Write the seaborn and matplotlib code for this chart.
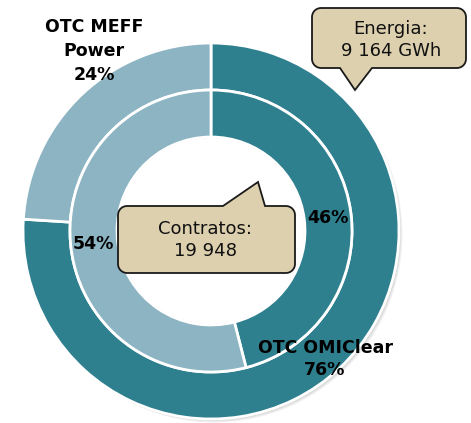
import numpy as np
import matplotlib
matplotlib.use("Agg")
import matplotlib.pyplot as plt
import seaborn as sns
from matplotlib.path import Path
from matplotlib.patches import PathPatch, Circle

sns.set_theme(style="white")
plt.rcParams['font.family'] = ['DejaVu Sans']

# ---- data ----
categories = ["OTC OMIClear", "OTC MEFF Power"]
outer_values = [76, 24]   # Energia (GWh share)
inner_values = [46, 54]   # Contratos share
colors = ["#2F808F", "#8CB4C2"]
energia_label = "Energia:\n9 164 GWh"
contratos_label = "Contratos:\n19 948"

W, H = 471, 423
fig = plt.figure(figsize=(W / 100, H / 100), dpi=100)
ax = fig.add_axes([0, 0, 1, 1])


def Y(y):
    return H - y


cx, cy = 211, Y(231)
R_out, R_mid, R_in = 188, 141, 94

# soft shadow
for i, a in enumerate([0.07, 0.06, 0.05]):
    ax.add_patch(Circle((cx + 1.5 + i, cy - 1.5 - i), R_out, color="black", alpha=a, lw=0, zorder=0))

ax.pie(outer_values, radius=R_out, center=(cx, cy), startangle=90, counterclock=False,
       colors=colors, wedgeprops=dict(width=R_out - R_mid, edgecolor="white", linewidth=2),
       frame=True)
ax.pie(inner_values, radius=R_mid, center=(cx, cy), startangle=90, counterclock=False,
       colors=colors, wedgeprops=dict(width=R_mid - R_in, edgecolor="white", linewidth=2),
       frame=True)
ax.add_patch(Circle((cx, cy), R_in - 1, color="white", lw=0, zorder=2))

ax.set_xlim(0, W)
ax.set_ylim(0, H)
ax.set_aspect("equal")
ax.axis("off")

fs = 12.5
ax.text(94, Y(51), "OTC MEFF\nPower\n%d%%" % outer_values[1], ha="center", va="center",
        fontsize=fs, fontweight="bold", linespacing=1.45, color="black", zorder=6)
ax.text(325, Y(359), "%s\n%d%%" % (categories[0], outer_values[0]), ha="center", va="center",
        fontsize=fs, fontweight="bold", linespacing=1.3, color="black", zorder=6)
ax.text(328, Y(218), "%d%%" % inner_values[0], ha="center", va="center",
        fontsize=fs, fontweight="bold", color="black", zorder=6)
ax.text(93, Y(244), "%d%%" % inner_values[1], ha="center", va="center",
        fontsize=fs, fontweight="bold", color="black", zorder=6)


def callout(x0, y0, x1, y1, r, base_a, base_b, tip, side):
    """Rounded rect (pixel coords, y down) with pointer on 'top' or 'bottom'."""
    pts = []

    def arc(cxr, cyr, a0, a1):
        for t in np.linspace(a0, a1, 8):
            pts.append((cxr + r * np.cos(t), cyr + r * np.sin(t)))

    arc(x0 + r, y0 + r, np.pi, 1.5 * np.pi)
    if side == "top":
        pts += [(base_a, y0), tip, (base_b, y0)]
    arc(x1 - r, y0 + r, 1.5 * np.pi, 2 * np.pi)
    arc(x1 - r, y1 - r, 0, 0.5 * np.pi)
    if side == "bottom":
        pts += [(base_b, y1), tip, (base_a, y1)]
    arc(x0 + r, y1 - r, 0.5 * np.pi, np.pi)
    pts.append(pts[0])
    verts = [(x, Y(y)) for x, y in pts]
    codes = [Path.MOVETO] + [Path.LINETO] * (len(verts) - 2) + [Path.CLOSEPOLY]
    ax.add_patch(PathPatch(Path(verts, codes), facecolor="#DDD0AE", edgecolor="#1a1a1a",
                           lw=1.3, zorder=5))


callout(312, 8, 466, 68, 9, 340, 372, (355, 90), "bottom")
callout(118, 206, 295, 273, 9, 223, 265, (258, 182), "top")

ax.text(391, Y(40), energia_label, ha="center", va="center", fontsize=13,
        linespacing=1.28, color="#111111", zorder=6)
ax.text(205, Y(240), contratos_label, ha="center", va="center", fontsize=13,
        linespacing=1.28, color="#111111", zorder=6)

fig.savefig("out.png", dpi=100)
